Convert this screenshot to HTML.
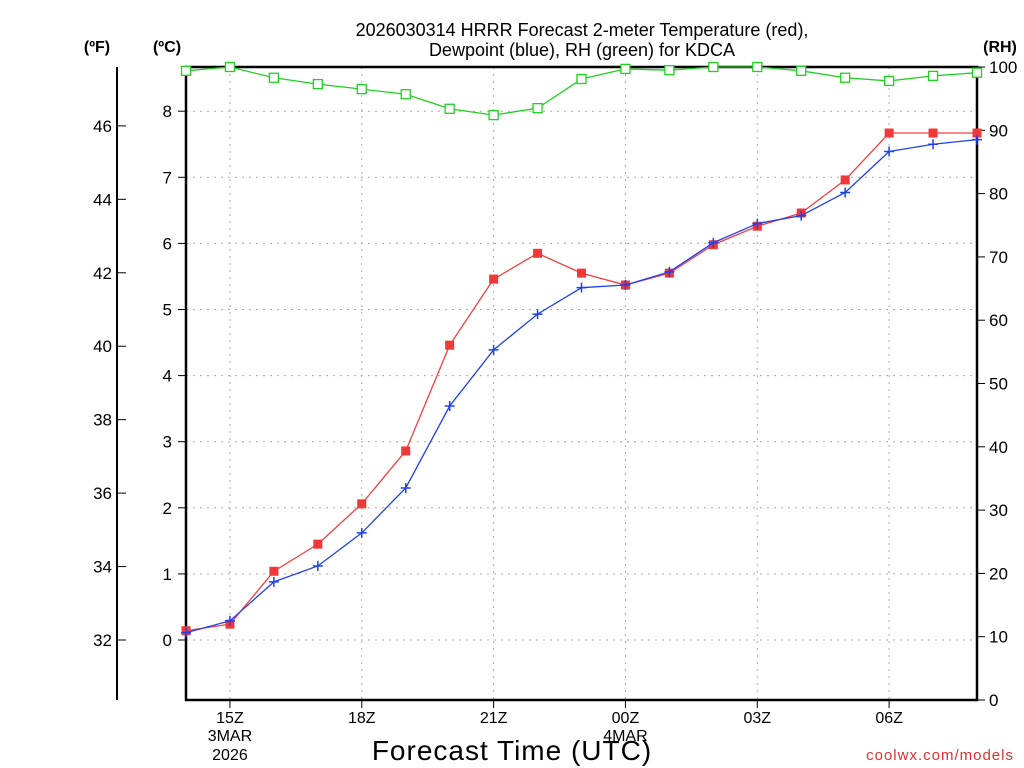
<!DOCTYPE html>
<html><head><meta charset="utf-8"><style>
html,body{margin:0;padding:0;background:#fff;}
svg{display:block;font-family:"Liberation Sans",sans-serif;}
</style></head><body>
<svg id="chart" width="1024" height="768" viewBox="0 0 1024 768">
<text x="582" y="36" text-anchor="middle" font-size="18">2026030314 HRRR Forecast 2-meter Temperature (red),</text>
<text x="582" y="56" text-anchor="middle" font-size="18">Dewpoint (blue), RH (green) for KDCA</text>
<text x="97" y="52" text-anchor="middle" font-size="16" font-weight="bold">(ºF)</text>
<text x="167" y="52" text-anchor="middle" font-size="16" font-weight="bold">(ºC)</text>
<text x="1000" y="52" text-anchor="middle" font-size="16" font-weight="bold">(RH)</text>
<text x="512" y="760" text-anchor="middle" font-size="28" letter-spacing="1">Forecast Time (UTC)</text>
<text x="1014" y="760" text-anchor="end" font-size="15" fill="#e03030" letter-spacing="1">coolwx.com/models</text>
<g id="grid"></g><g id="axes"></g><g id="series"></g>
</svg>
<script>
const hours = [14,15,16,17,18,19,20,21,22,23,24,25,26,27,28,29,30,31,32];
const tempC = [0.14,0.24,1.04,1.45,2.06,2.86,4.46,5.46,5.85,5.55,5.37,5.55,5.98,6.26,6.46,6.96,7.67,7.67,7.67];
const dewC = [0.11,0.29,0.88,1.12,1.62,2.30,3.54,4.39,4.93,5.33,5.37,5.57,6.01,6.30,6.42,6.77,7.39,7.50,7.57];
const rh = [99.4,100,98.3,97.3,96.5,95.7,93.4,92.4,93.5,98.1,99.7,99.5,100,100,99.4,98.3,97.8,98.6,99.1];
const cTicks = [0,1,2,3,4,5,6,7,8];
const fTicks = [32,34,36,38,40,42,44,46];
const rhTicks = [0,10,20,30,40,50,60,70,80,90,100];
const xTickHours = [15,18,21,24,27,30];
const xTickLabels = ["15Z","18Z","21Z","00Z","03Z","06Z"];

const L=186,R=977,T=67,B=700;
const xs=h=>L+(h-14)*(R-L)/18;
const yc=c=>640-c*66.1;
const yf=f=>yc((f-32)*5/9);
const yr=r=>B-r*(B-T)/100;
const NS="http://www.w3.org/2000/svg";
function mk(tag,attrs,parent,text){const e=document.createElementNS(NS,tag);for(const k in attrs)e.setAttribute(k,attrs[k]);if(text!==undefined)e.textContent=text;parent.appendChild(e);return e;}
const grid=document.getElementById('grid'),axes=document.getElementById('axes'),ser=document.getElementById('series');

cTicks.forEach(c=>{
 const g=mk('line',{x1:L,x2:R,y1:yc(c),y2:yc(c),stroke:'#aaa','stroke-dasharray':'2,5'},grid);
 
 
 const t=mk('line',{x1:L-8,x2:L,y1:yc(c),y2:yc(c),stroke:'#000'},axes);
 
 
 const lb=mk('text',{x:L-14,y:yc(c)+6,'text-anchor':'end','font-size':'17'},axes,String(c));
 
 
});
xTickHours.forEach((h,i)=>{
 const g=mk('line',{x1:xs(h),x2:xs(h),y1:T,y2:B,stroke:'#aaa','stroke-dasharray':'2,5'},grid);
 
 
 const t=mk('line',{x1:xs(h),x2:xs(h),y1:B,y2:B+8,stroke:'#000'},axes);
 
 
 const lb=mk('text',{x:xs(h),y:723,'text-anchor':'middle','font-size':'16'},axes,xTickLabels[i]);
 
 
});
[[15,"3MAR",741],[15,"2026",760],[24,"4MAR",741]].forEach(d=>{
 const lb=mk('text',{x:xs(d[0]),y:d[2],'text-anchor':'middle','font-size':'16'},axes,d[1]);
 
 
});
fTicks.forEach(f=>{
 const t=mk('line',{x1:117,x2:126,y1:yf(f),y2:yf(f),stroke:'#000'},axes);
 
 
 const lb=mk('text',{x:112,y:yf(f)+6,'text-anchor':'end','font-size':'17'},axes,String(f));
 
 
});
rhTicks.forEach(r=>{
 const t=mk('line',{x1:R,x2:R+8,y1:yr(r),y2:yr(r),stroke:'#000'},axes);
 
 
 const lb=mk('text',{x:R+12,y:yr(r)+6,'font-size':'17'},axes,String(r));
 
 
});
const fa=mk('line',{x1:117,x2:117,y1:67,y2:700,stroke:'#000','stroke-width':2},axes);


const fr=mk('rect',{x:L,y:T,width:R-L,height:B-T,fill:'none',stroke:'#000','stroke-width':2.5},axes);



function line(vals,yfn,color,name){
 const p=mk('polyline',{points:vals.map((v,i)=>xs(hours[i])+','+yfn(v)).join(' '),fill:'none',stroke:color,'stroke-width':1.3},ser);
 
 
}
line(rh,yr,'#20d020','rh');
rh.forEach((v,i)=>{const m=mk('rect',{x:xs(hours[i])-4.5,y:yr(v)-4.5,width:9,height:9,fill:'#fff',stroke:'#20d020','stroke-width':1.3},ser);
 
 });
line(tempC,yc,'#f04040','temperature');
tempC.forEach((v,i)=>{const m=mk('rect',{x:xs(hours[i])-4.5,y:yc(v)-4.5,width:9,height:9,fill:'#f03838'},ser);
 
 });
line(dewC,yc,'#2040f0','dewpoint');
dewC.forEach((v,i)=>{const x=xs(hours[i]),y=yc(v);const m=mk('path',{d:`M${x-5},${y}H${x+5}M${x},${y-5}V${y+5}`,stroke:'#2040f0','stroke-width':1.5},ser);
 
 });
</script>
</body></html>
